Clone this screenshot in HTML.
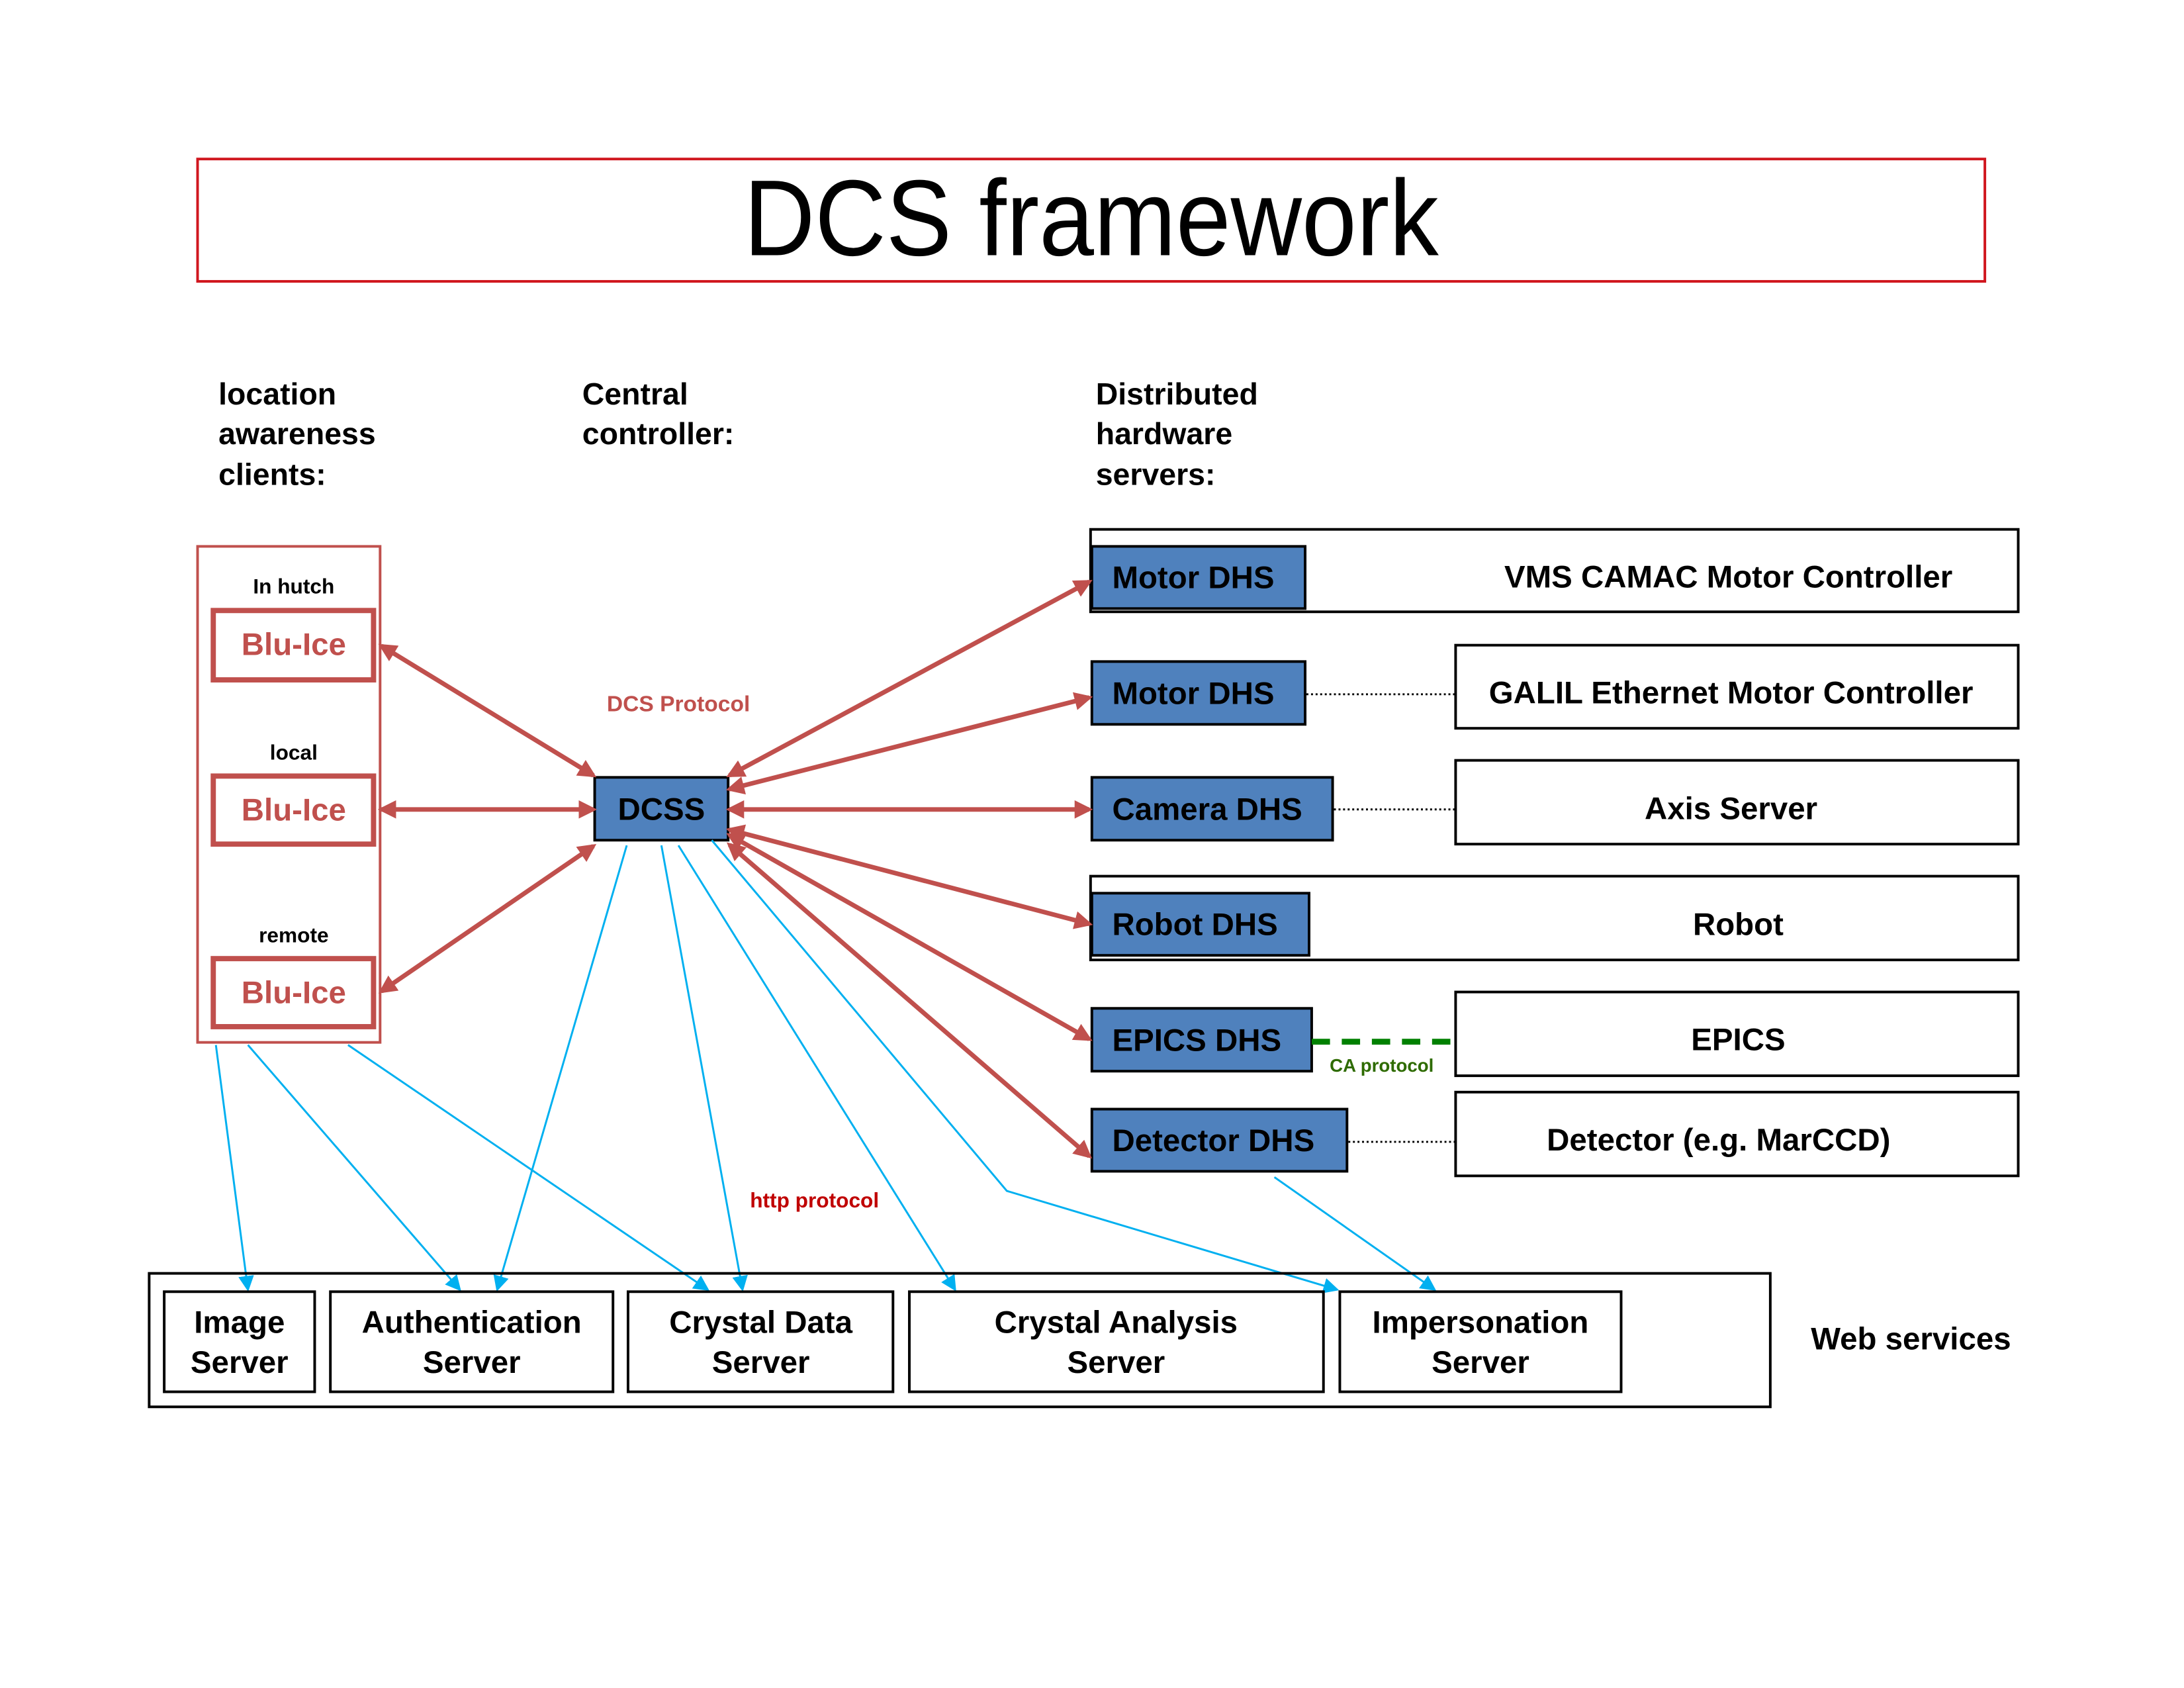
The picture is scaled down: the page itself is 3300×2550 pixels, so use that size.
<!DOCTYPE html>
<html><head><meta charset="utf-8"><style>
html,body{margin:0;padding:0;background:#fff}
svg{display:block}
text{font-family:"Liberation Sans",sans-serif}
</style></head><body>
<svg width="3300" height="2550" viewBox="0 0 3300 2550" xmlns="http://www.w3.org/2000/svg">
<defs>
<marker id="ra" markerWidth="4" markerHeight="4" refX="3.2" refY="2" orient="auto-start-reverse" markerUnits="strokeWidth"><path d="M0,0 L4,2 L0,4 z" fill="#c0504d"/></marker>
<marker id="ba" markerWidth="8" markerHeight="8" refX="7" refY="4" orient="auto" markerUnits="strokeWidth"><path d="M0,0 L8,4 L0,8 z" fill="#00b0f0"/></marker>
</defs>
<g transform="scale(0.9885)">
<rect x="302" y="243" width="2732" height="187" fill="none" stroke="#d0161e" stroke-width="4"/>
<text x="1668" y="390" font-size="165" text-anchor="middle" fill="#000" textLength="1062" lengthAdjust="spacingAndGlyphs">DCS framework</text>

<g font-size="47" font-weight="bold" fill="#000">
<text x="334" y="618">location</text><text x="334" y="679">awareness</text><text x="334" y="741">clients:</text>
<text x="890" y="618">Central</text><text x="890" y="679">controller:</text>
<text x="1675" y="618">Distributed</text><text x="1675" y="679">hardware</text><text x="1675" y="741">servers:</text>
</g>

<rect x="302" y="835" width="279" height="758" fill="none" stroke="#c0504d" stroke-width="4"/>
<g font-size="32" font-weight="bold" text-anchor="middle" fill="#000">
<text x="449" y="907">In hutch</text><text x="449" y="1161">local</text><text x="449" y="1440">remote</text>
</g>
<g fill="none" stroke="#c0504d" stroke-width="8">
<rect x="326" y="933" width="245" height="106"/><rect x="326" y="1186" width="245" height="104"/><rect x="326" y="1465" width="245" height="104"/>
</g>
<g font-size="48" font-weight="bold" text-anchor="middle" fill="#c0504d">
<text x="449" y="1001">Blu-Ice</text><text x="449" y="1254">Blu-Ice</text><text x="449" y="1533">Blu-Ice</text>
</g>

<text x="1037" y="1087" font-size="34" font-weight="bold" text-anchor="middle" fill="#c0504d">DCS Protocol</text>
<text x="1245" y="1845" font-size="32" font-weight="bold" text-anchor="middle" fill="#c00000">http protocol</text>
<text x="2112" y="1638" font-size="28" font-weight="bold" text-anchor="middle" fill="#2e6b00">CA protocol</text>

<g fill="none" stroke="#000" stroke-width="4">
<rect x="1667" y="809" width="1418" height="126"/>
<rect x="2225" y="986" width="860" height="127"/>
<rect x="2225" y="1162" width="860" height="128"/>
<rect x="1667" y="1339" width="1418" height="128"/>
<rect x="2225" y="1516" width="860" height="128"/>
<rect x="2225" y="1669" width="860" height="128"/>
</g>
<g fill="#4f81bd" stroke="#000" stroke-width="4">
<rect x="909" y="1188" width="204" height="96"/>
<rect x="1669" y="835" width="326" height="95"/>
<rect x="1669" y="1011" width="326" height="96"/>
<rect x="1669" y="1188" width="368" height="96"/>
<rect x="1669" y="1365" width="332" height="95"/>
<rect x="1669" y="1541" width="336" height="96"/>
<rect x="1669" y="1695" width="390" height="95"/>
</g>
<g font-size="48" font-weight="bold" fill="#000">
<text x="1011" y="1253" text-anchor="middle">DCSS</text>
<text x="1700" y="899">Motor DHS</text>
<text x="1700" y="1076">Motor DHS</text>
<text x="1700" y="1253">Camera DHS</text>
<text x="1700" y="1429">Robot DHS</text>
<text x="1700" y="1606">EPICS DHS</text>
<text x="1700" y="1759">Detector DHS</text>
<g text-anchor="middle">
<text x="2642" y="898">VMS CAMAC Motor Controller</text>
<text x="2646" y="1075">GALIL Ethernet Motor Controller</text>
<text x="2646" y="1252">Axis Server</text>
<text x="2657" y="1429">Robot</text>
<text x="2657" y="1605">EPICS</text>
<text x="2627" y="1758">Detector (e.g. MarCCD)</text>
</g>
</g>
<g stroke="#000" stroke-width="3" stroke-dasharray="3,4">
<line x1="1997" y1="1061" x2="2225" y2="1061"/>
<line x1="2039" y1="1237" x2="2225" y2="1237"/>
<line x1="2061" y1="1745" x2="2225" y2="1745"/>
</g>
<line x1="2005" y1="1592" x2="2225" y2="1592" stroke="#008000" stroke-width="9" stroke-dasharray="28,18"/>

<g stroke="#c0504d" stroke-width="7" marker-start="url(#ra)" marker-end="url(#ra)" fill="none">
<line x1="583" y1="987" x2="907" y2="1185"/>
<line x1="583" y1="1237" x2="907" y2="1237"/>
<line x1="583" y1="1515" x2="907" y2="1293"/>
<line x1="1115" y1="1185" x2="1665" y2="889"/>
<line x1="1115" y1="1206" x2="1665" y2="1066"/>
<line x1="1115" y1="1237" x2="1665" y2="1237"/>
<line x1="1115" y1="1268" x2="1665" y2="1412"/>
<line x1="1115" y1="1276" x2="1665" y2="1588"/>
<line x1="1115" y1="1291" x2="1665" y2="1767"/>
</g>

<g stroke="#00b0f0" stroke-width="3" fill="none" marker-end="url(#ba)">
<line x1="330" y1="1597" x2="379" y2="1971"/>
<line x1="379" y1="1597" x2="703" y2="1971"/>
<line x1="532" y1="1597" x2="1082" y2="1971"/>
<line x1="958" y1="1292" x2="760" y2="1971"/>
<line x1="1011" y1="1292" x2="1135" y2="1971"/>
<line x1="1037" y1="1292" x2="1460" y2="1971"/>
<polyline points="1088,1284 1539,1820 2044,1971"/>
<line x1="1948" y1="1799" x2="2193" y2="1971"/>
</g>

<rect x="228" y="1946" width="2478" height="204" fill="none" stroke="#000" stroke-width="4"/>
<g fill="none" stroke="#000" stroke-width="4">
<rect x="251" y="1974" width="230" height="153"/>
<rect x="505" y="1974" width="432" height="153"/>
<rect x="960" y="1974" width="405" height="153"/>
<rect x="1390" y="1974" width="633" height="153"/>
<rect x="2048" y="1974" width="430" height="153"/>
</g>
<g font-size="48" font-weight="bold" fill="#000" text-anchor="middle">
<text x="366" y="2037">Image</text><text x="366" y="2098">Server</text>
<text x="721" y="2037">Authentication</text><text x="721" y="2098">Server</text>
<text x="1163" y="2037">Crystal Data</text><text x="1163" y="2098">Server</text>
<text x="1706" y="2037">Crystal Analysis</text><text x="1706" y="2098">Server</text>
<text x="2263" y="2037">Impersonation</text><text x="2263" y="2098">Server</text>
<text x="2921" y="2062">Web services</text>
</g>
</g>
</svg>
</body></html>
